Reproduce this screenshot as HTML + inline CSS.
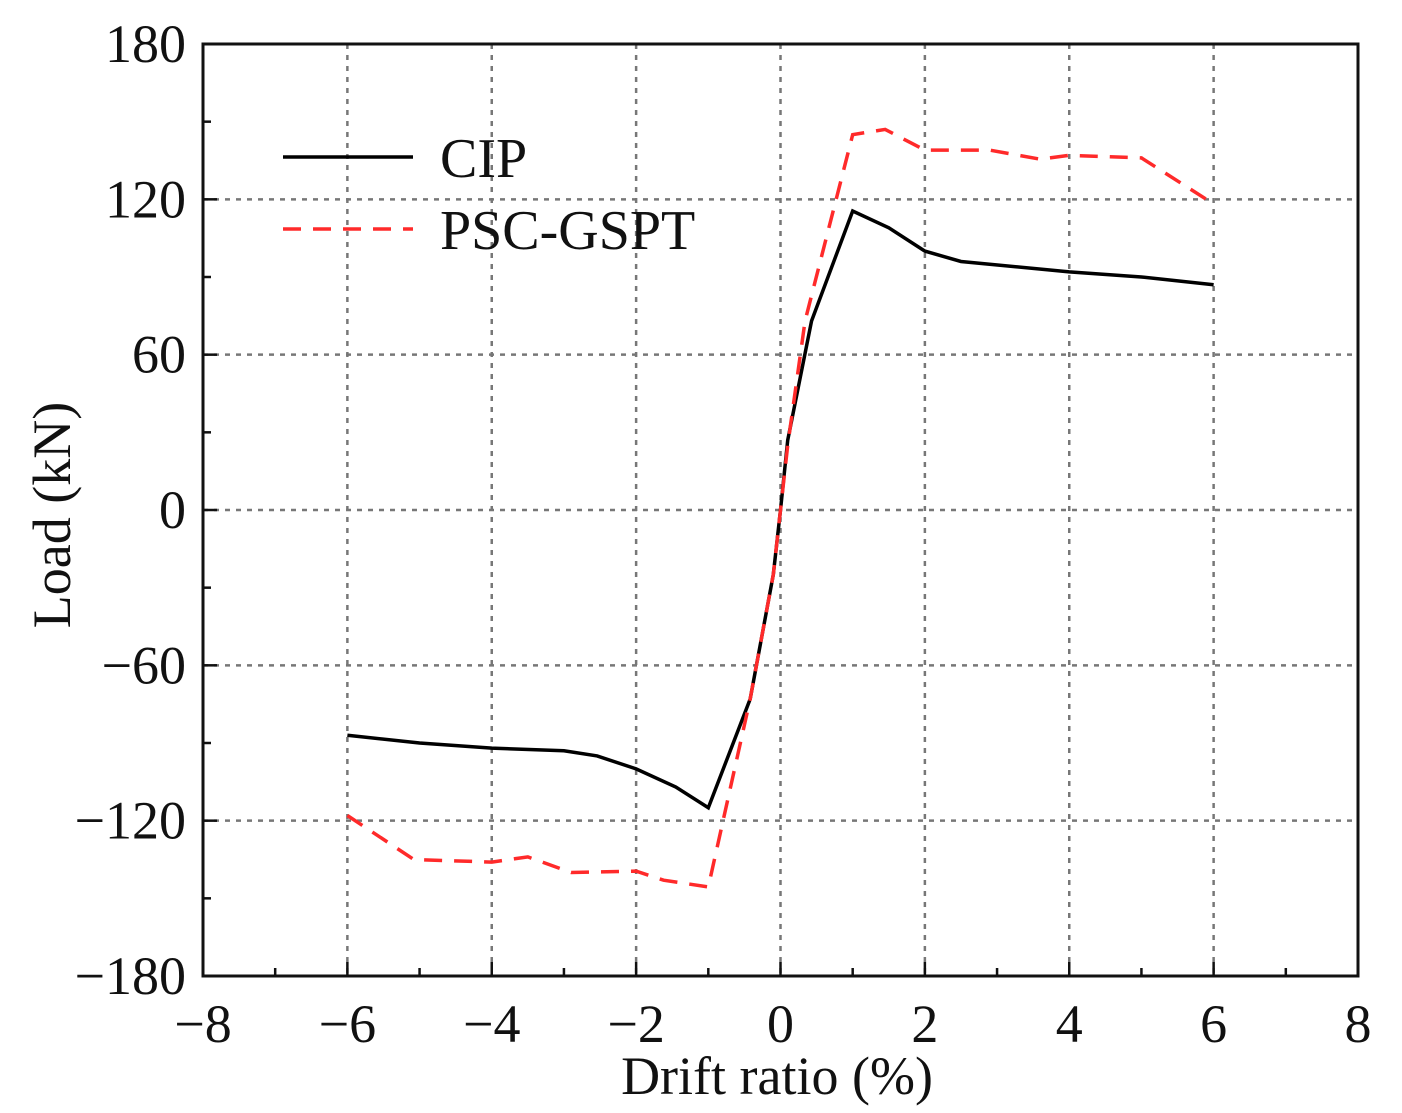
<!DOCTYPE html>
<html><head><meta charset="utf-8"><style>
body{margin:0;background:#fff}
svg text{font-family:"Liberation Serif",serif;fill:#111}
</style></head><body>
<svg id="c" width="1402" height="1108" xmlns="http://www.w3.org/2000/svg"></svg>
<script>
const xTicks=[-8,-6,-4,-2,0,2,4,6,8];
const yTicks=[-180,-120,-60,0,60,120,180];
const yTickLabels=["\u2212180","\u2212120","\u221260","0","60","120","180"];
const xTickLabels=["\u22128","\u22126","\u22124","\u22122","0","2","4","6","8"];
const cipX=[-6,-5,-4,-3,-2.54,-2,-1.45,-1,-0.42,-0.1,0,0.1,0.43,1,1.5,2,2.5,4,5,6];
const cipY=[-87,-90,-92,-93,-95,-100,-107,-115,-73,-25,0,27,73,115.5,109,100,96,92,90,87];
const pscX=[-6,-5.08,-4,-3.5,-2.9,-2,-1.62,-1,-0.42,-0.1,0,0.1,0.34,1,1.45,2,2.9,3.6,4,5,5.9];
const pscY=[-118,-135,-136,-134,-140,-139.5,-143,-145.6,-73,-25,0,25,73,145,147,139,139,135.5,137,136,120];
const L=203,R=1358,T=44,B=976;
const sx=v=>L+(v+8)/16*(R-L), sy=v=>B-(v+180)/360*(B-T);
const svg=document.getElementById('c');const NS='http://www.w3.org/2000/svg';
function mk(t,a,p){const e=document.createElementNS(NS,t);for(const k in a)e.setAttribute(k,a[k]);(p||svg).appendChild(e);return e;}
xTicks.slice(1,-1).forEach(v=>{const g=mk('line',{x1:sx(v),x2:sx(v),y1:T,y2:B,stroke:'#777','stroke-width':2.5,'stroke-dasharray':'5 6'});

});
yTicks.slice(1,-1).forEach(v=>{const g=mk('line',{x1:L,x2:R,y1:sy(v),y2:sy(v),stroke:'#777','stroke-width':2.5,'stroke-dasharray':'5 6'});

});
const f=mk('rect',{x:L,y:T,width:R-L,height:B-T,fill:'none',stroke:'#111','stroke-width':3});


xTicks.forEach((v,i)=>{mk('line',{x1:sx(v),x2:sx(v),y1:B,y2:B-14,stroke:'#111','stroke-width':2.5});
if(i<xTicks.length-1)mk('line',{x1:sx(v+1),x2:sx(v+1),y1:B,y2:B-8,stroke:'#111','stroke-width':2.5});
const t=mk('text',{x:sx(v),y:1042,'text-anchor':'middle','font-size':54});t.textContent=xTickLabels[i];

});
yTicks.forEach((v,i)=>{mk('line',{x1:L,x2:L+14,y1:sy(v),y2:sy(v),stroke:'#111','stroke-width':2.5});
if(i<yTicks.length-1)mk('line',{x1:L,x2:L+8,y1:sy(v+30),y2:sy(v+30),stroke:'#111','stroke-width':2.5});
const t=mk('text',{x:186,y:sy(v)+18,'text-anchor':'end','font-size':54});t.textContent=yTickLabels[i];

});
function pts(xs,ys){return xs.map((x,i)=>sx(x)+','+sy(ys[i])).join(' ');}
const s1=mk('polyline',{points:pts(cipX,cipY),fill:'none',stroke:'#000','stroke-width':3.5});


const s2=mk('polyline',{points:pts(pscX,pscY),fill:'none',stroke:'#ff2a2a','stroke-width':3.5,'stroke-dasharray':'18 12'});


const l1=mk('line',{x1:283,x2:413,y1:157,y2:157,stroke:'#000','stroke-width':3.5});


const l2=mk('line',{x1:283,x2:413,y1:229,y2:229,stroke:'#ff2a2a','stroke-width':3.5,'stroke-dasharray':'18 12'});


const t1=mk('text',{x:440,y:177,'font-size':56});t1.textContent='CIP';


const t2=mk('text',{x:440,y:249,'font-size':56});t2.textContent='PSC-GSPT';


const xt=mk('text',{x:777,y:1094,'text-anchor':'middle','font-size':54});xt.textContent='Drift ratio (%)';


const yt=mk('text',{x:0,y:0,'text-anchor':'middle','font-size':54,transform:'translate(70,515) rotate(-90)'});yt.textContent='Load (kN)';


</script>
</body></html>
